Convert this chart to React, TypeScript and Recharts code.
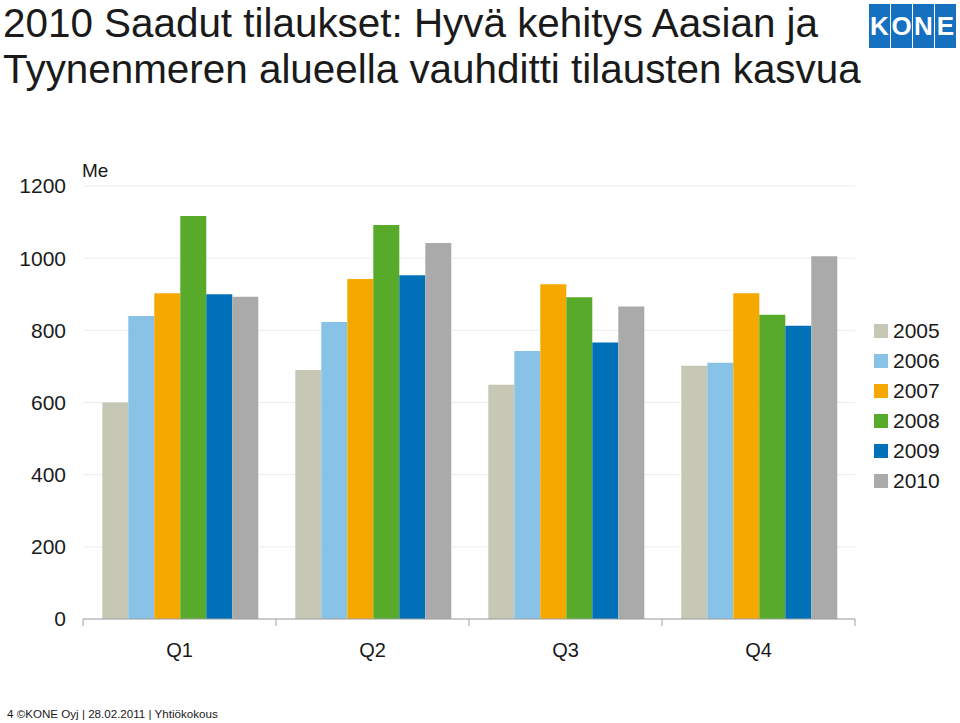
import React from 'react';
import { BarChart, Bar, XAxis, YAxis, CartesianGrid } from 'recharts';

const quarters = ['Q1', 'Q2', 'Q3', 'Q4'];
const years = ['2005', '2006', '2007', '2008', '2009', '2010'];
const yearColors = ['#c6c7b5', '#88c2e7', '#f5a800', '#58ab2a', '#0070b8', '#aaaaaa'];

const orders2005 = [600, 690, 649, 702];
const orders2006 = [840, 823, 743, 710];
const orders2007 = [903, 942, 928, 903];
const orders2008 = [1117, 1092, 892, 843];
const orders2009 = [900, 953, 766, 813];
const orders2010 = [893, 1042, 866, 1005];

const yTicks = [0, 200, 400, 600, 800, 1000, 1200];

const series = [orders2005, orders2006, orders2007, orders2008, orders2009, orders2010];

const data = quarters.map((q, i) => {
  const row: Record<string, string | number> = { quarter: q };
  years.forEach((y, j) => { row[y] = series[j][i]; });
  return row;
});

const font = '"Liberation Sans", Arial, sans-serif';

function QuarterTick(props: any) {
  const { x, y, payload, index, visibleTicksCount } = props;
  const half = payload.offset ?? 96;
  const last = index === visibleTicksCount - 1;
  return (
    <g>
      <line x1={x - half} y1={y} x2={x - half} y2={y + 7} stroke="#a0a0a0" />
      {last && <line x1={x + half} y1={y} x2={x + half} y2={y + 7} stroke="#a0a0a0" />}
      <text x={x} y={y + 38} textAnchor="middle" fontSize={20} fill="#1a1a1a" fontFamily={font}>
        {payload.value}
      </text>
    </g>
  );
}

function KoneLogo() {
  return (
    <div style={{ position: 'absolute', left: 869, top: 4, display: 'flex', gap: 1 }}>
      {['K', 'O', 'N', 'E'].map((l) => (
        <div key={l} style={{
          width: 21, height: 44, background: '#1670c0', color: '#fff',
          fontWeight: 700, fontSize: 26, lineHeight: '44px', textAlign: 'center',
        }}>{l}</div>
      ))}
    </div>
  );
}

export default function App() {
  return (
    <div style={{
      position: 'absolute', left: 0, top: 0, width: 960, height: 723,
      background: '#fff', fontFamily: font, color: '#1a1a1a', overflow: 'hidden',
    }}>
      <div style={{ position: 'absolute', left: 3, top: 0, fontSize: 40.4, whiteSpace: 'nowrap' }}>
        <div style={{ lineHeight: 'normal' }}>2010 Saadut tilaukset: Hyvä kehitys Aasian ja</div>
        <div style={{ lineHeight: '44px' }}>Tyynenmeren alueella vauhditti tilausten kasvua</div>
      </div>
      <KoneLogo />

      <div style={{ position: 'absolute', left: 82, top: 160, fontSize: 19 }}>Me</div>

      <div style={{ position: 'absolute', left: 0, top: 150 }}>
        <BarChart
          width={870}
          height={519}
          data={data}
          margin={{ top: 36, right: 15, left: 0, bottom: 0 }}
          barCategoryGap="10%"
          barGap={0}
        >
          <CartesianGrid vertical={false} stroke="#ececec" />
          <XAxis
            dataKey="quarter"
            height={50}
            axisLine={{ stroke: '#a0a0a0' }}
            tickLine={false}
            tickSize={0}
            tickMargin={0}
            tick={<QuarterTick />}
            interval={0}
          />
          <YAxis
            width={83}
            domain={[0, 1200]}
            ticks={yTicks}
            axisLine={false}
            tickLine={false}
            tickSize={0}
            tickMargin={17}
            tick={{ fontSize: 21, fill: '#1a1a1a', fontFamily: font }}
          />
          {years.map((y, i) => (
            <Bar key={y} dataKey={y} fill={yearColors[i]} isAnimationActive={false} />
          ))}
        </BarChart>
      </div>

      <div style={{ position: 'absolute', left: 874, top: 316 }}>
        {years.map((y, i) => (
          <div key={y} style={{ display: 'flex', alignItems: 'center', height: 30 }}>
            <div style={{ width: 14, height: 14, background: yearColors[i], marginRight: 5 }} />
            <span style={{ fontSize: 21 }}>{y}</span>
          </div>
        ))}
      </div>

      <div style={{ position: 'absolute', left: 7, top: 707, fontSize: 11.6, whiteSpace: 'nowrap' }}>
        4 ©KONE Oyj | 28.02.2011 | Yhtiökokous
      </div>
    </div>
  );
}
